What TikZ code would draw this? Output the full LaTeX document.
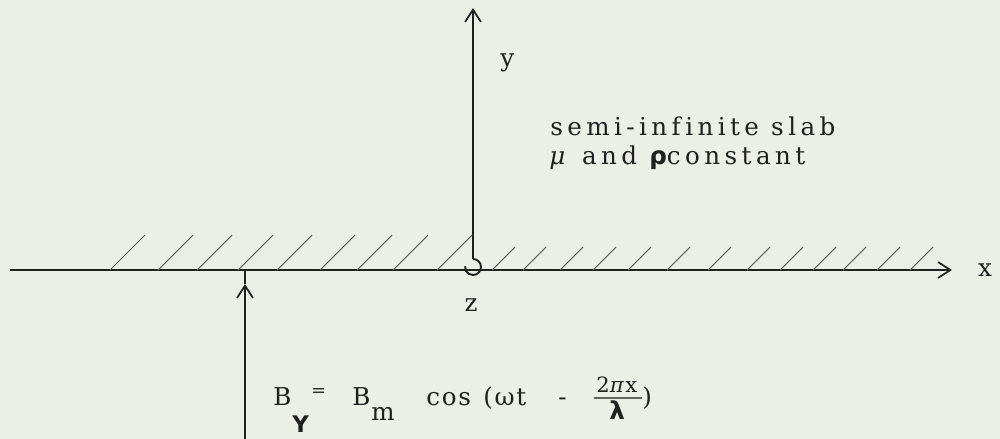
\documentclass[tikz,border=0pt]{standalone}
\usepackage{fontspec}
\usetikzlibrary{arrows.meta}
\newfontfamily\spaced[LetterSpace=18,Ligatures={NoCommon}]{DejaVu Serif}
\newfontfamily\formfont[LetterSpace=7]{DejaVu Serif}
\newfontfamily\plainserif{DejaVu Serif}
\newfontfamily\sansb{DejaVu Sans}
\definecolor{paper}{RGB}{236,239,229}
\definecolor{ink}{RGB}{32,32,32}
\begin{document}
\begin{tikzpicture}[x=0.02cm,y=-0.02cm,
  lbl/.style={inner sep=0pt,text=ink,font=\fontsize{14}{16}\selectfont\spaced},
  flbl/.style={inner sep=0pt,text=ink,anchor=base west,font=\fontsize{14}{16}\selectfont\formfont},
  axis/.style={draw=ink,line width=1.1pt},
  hatch/.style={draw=ink!70,line width=0.6pt},
  tip/.style={-{Straight Barb[length=7pt,width=9pt,line width=1pt]}}]
\useasboundingbox (0,0) rectangle (1000,439);
\fill[paper] (0,0) rectangle (1000,439);
% axes
\coordinate (xs) at (10,270);
\coordinate (xe) at (952,270);
\coordinate (o) at (473,259);
\coordinate (yt) at (473,8);
\draw[axis,tip] (xs) -- (xe);
\draw[axis,tip] (o) -- (yt);
\draw[ink,line width=1.1pt] (o) arc[start angle=-90,end angle=185,radius=8];
% hatching
\foreach \xx in {110,158,197,238,277,320,357,393,437}
  \draw[hatch] (\xx,270) -- ++(35,-35);
\foreach \xx in {492,523,560,593,628,667,708,747,780,813,843,877,910}
  \draw[hatch] (\xx,270) -- ++(23,-23);
% incoming field arrow
\coordinate (bb) at (245,439);
\coordinate (bm) at (245,284);
\coordinate (ba) at (245,270);
\draw[ink,line width=1.6pt,tip] (bb) -- (bm);
\draw[ink,line width=1.6pt] (bm) -- (ba);
% labels
\node[lbl,anchor=base west] (ylab) at (500,67) {y};
\node[lbl,anchor=base] (xlab) at (985,276) {x};
\node[lbl,anchor=base] (zlab) at (471,311) {z};
\node[lbl,anchor=base west] (slab1) at (550,135) {semi-infinite slab};
\node[lbl,anchor=base west] (slab2) at (549,164) {\textit{μ} and {\sansb\bfseries ρ}constant};
% formula
\node[flbl] (b1) at (273,405) {B};
\node[inner sep=0pt,anchor=base west,text=ink,font=\fontsize{13}{15}\selectfont\sansb\bfseries] (bsub) at (292,432) {Y};
\node[inner sep=0pt,anchor=base west,text=ink,font=\fontsize{10}{12}\selectfont\plainserif] (eq) at (311,396) {=};
\node[flbl] (b2) at (352,405) {B};
\node[flbl] (msub) at (371,420) {m};
\node[flbl] (cosf) at (426,405) {cos};
\node[flbl] (arg) at (483,405) {(ωt};
\node[flbl] (minus) at (558,405) {-};
\node[inner sep=0pt,anchor=base west,text=ink,font=\fontsize{12}{14}\selectfont\formfont] (num) at (596,392) {2\textit{π}x};
\node[inner sep=0pt,anchor=base west,text=ink,font=\fontsize{14}{16}\selectfont\sansb\bfseries] (den) at (609,419) {λ};
\node[flbl] (rpar) at (642,405) {)};
\coordinate (fb1) at (594,398);
\coordinate (fb2) at (642,398);
\draw[ink!70,line width=0.7pt] (fb1) -- (fb2);
\end{tikzpicture}
\end{document}
